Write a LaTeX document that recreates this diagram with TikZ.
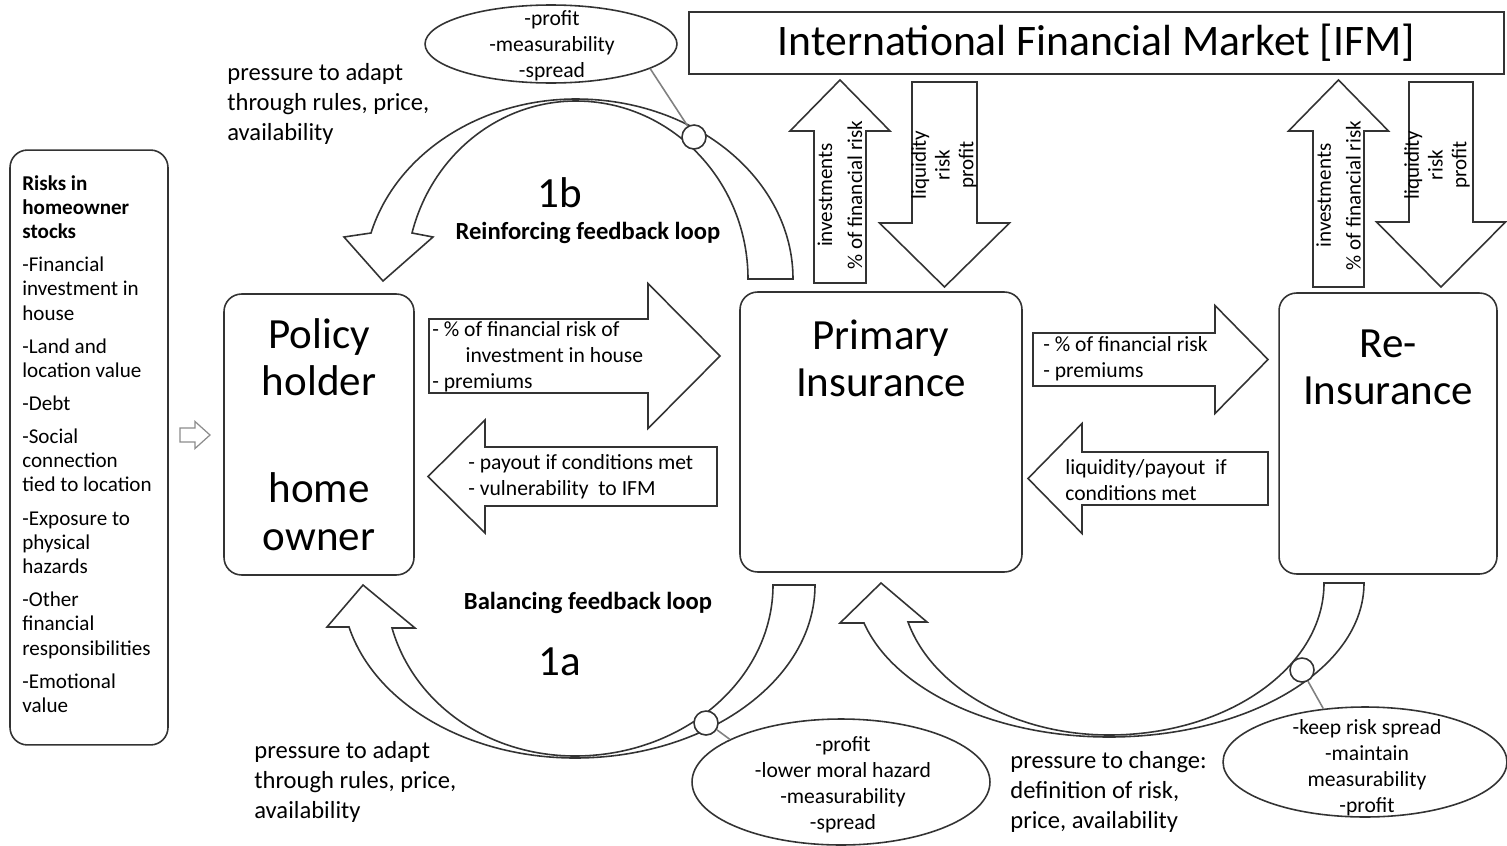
\documentclass[tikz,border=0pt]{standalone}
\usepackage{fontspec}
\setmainfont{Carlito}
\usetikzlibrary{shapes.geometric}
\usetikzlibrary{positioning}
% block arrows: tail, head base, tip, middle, half shaft, half head
\newcommand{\harr}[7][]{\draw[blk,#1] (#2,{#5-#6}) -- (#3,{#5-#6}) -- (#3,{#5-#7}) -- (#4,#5)
  -- (#3,{#5+#7}) -- (#3,{#5+#6}) -- (#2,{#5+#6}) -- cycle;}
\newcommand{\varr}[7][]{\draw[blk,#1] ({#5-#6},#2) -- ({#5-#6},#3) -- ({#5-#7},#3) -- (#5,#4)
  -- ({#5+#7},#3) -- ({#5+#6},#3) -- ({#5+#6},#2) -- cycle;}
\tikzset{
box/.style={draw=black!80,line width=0.9pt,rounded corners=0.35cm,inner sep=0pt},
blk/.style={draw=black!80,line width=0.9pt,fill=white},
band/.style={draw=black!80,line width=0.9pt,fill=white},
oval/.style={draw=black!80,line width=0.9pt,ellipse,inner sep=0pt},
ring/.style={draw=black!80,line width=0.9pt,circle,fill=white,minimum size=0.48cm,inner sep=0pt},
link/.style={draw=black!50,line width=0.9pt},
title/.style={align=center,inner sep=0pt,font=\fontsize{24.5}{27}\selectfont},
small/.style={align=left,inner sep=0pt,font=\fontsize{12.3}{14.8}\selectfont},
note/.style={align=left,inner sep=0pt,font=\fontsize{14}{17}\selectfont},
loop name/.style={inner sep=0pt,font=\bfseries\fontsize{14}{16}\selectfont},
list/.style={align=left,inner sep=0pt,font=\fontsize{12}{13.8}\selectfont}
}

\begin{document}
\begin{tikzpicture}[x=0.02cm,y=-0.02cm]
\path[use as bounding box,fill=white] (0,0) rectangle (1507,845);

% risk stocks
\node[box,minimum width=3.16cm,minimum height=11.9cm] (risks) at (89,447.5) {};
\node[list,anchor=north west] (risktxt) at (22,175) {\textbf{Risks in}\\\textbf{homeowner}\\\textbf{stocks}\\[5pt]
  -Financial\\investment in\\house\\[5pt]
  -Land and\\location value\\[5pt]
  -Debt\\[5pt]
  -Social\\connection\\tied to location\\[5pt]
  -Exposure to\\physical\\hazards\\[5pt]
  -Other\\financial\\responsibilities\\[5pt]
  -Emotional\\value};
\harr[draw=black!45,line width=0.7pt]{180}{195}{210}{435}{7}{13.5}

% actors
\node[box,title,minimum width=3.8cm,minimum height=5.62cm] (ph) at (319,434.5) {Policy\\holder\\[33.7pt]home\\owner};
\node[box,minimum width=5.64cm,minimum height=5.6cm] (pi) at (881,432) {};
\node[title,below=0.56cm of pi.north] (pitxt) {Primary\\Insurance};
\node[box,minimum width=4.36cm,minimum height=5.62cm] (ri) at (1388,433.5) {};
\node[title,below=0.74cm of ri.north] (ritxt) {Re-\\Insurance};
\node[draw=black!80,line width=0.9pt,title,font=\fontsize{24.8}{27}\selectfont,minimum width=16.3cm,minimum height=1.24cm] (ifm) at (1096.5,43) {International Financial Market [IFM]};

% flows between actors
\harr{429}{648}{720}{356}{37}{72.5}
\harr{717}{485}{428}{476.5}{29.5}{56.5}
\harr{1033}{1215}{1268}{359.5}{26.5}{54}
\harr{1268}{1082}{1028}{478.5}{26.5}{55}
\node[small,anchor=west] (a1txt) at (432,356.5) {- \% of financial risk of\\\hspace*{19pt}investment in house\\- premiums};
\node[small,anchor=west] (a2txt) at (468,477) {- payout if conditions met\\- vulnerability\ \ to IFM};
\node[small,anchor=west] (a3txt) at (1043,359) {- \% of financial risk\\- premiums};
\node[small,anchor=west] (a4txt) at (1065,480) {liquidity/payout\ \ if\\conditions met};

% flows with the market
\varr{283}{131}{80}{840}{26}{50}
\varr{82}{223}{287}{944.5}{32.5}{65}
\varr{287}{131}{80}{1338.5}{25.5}{50}
\varr{82}{222}{287}{1441}{32}{64.5}
\node[small,align=center,rotate=90,font=\fontsize{12}{17}\selectfont] (v1txt) at (840,195) {investments\\\% of financial risk};
\node[small,align=center,rotate=90,font=\fontsize{12}{13.5}\selectfont] (v2txt) at (944,165) {liquidity\\risk\\profit};
\node[small,align=center,rotate=90,font=\fontsize{12}{17}\selectfont] (v3txt) at (1338.5,195.5) {investments\\\% of financial risk};
\node[small,align=center,rotate=90,font=\fontsize{12}{13.5}\selectfont] (v4txt) at (1437,165) {liquidity\\risk\\profit};

% feedback loops
\draw[band] (748,279) -- (793,279) .. controls (793,180) and (696,99) .. (576,99)
  .. controls (480,99) and (396,154) .. (371,233) -- (344,237) -- (383,281) -- (433,237) -- (412,233)
  .. controls (432,155) and (499,101) .. (576,101) .. controls (671,101) and (748,181) .. (748,279) -- cycle;
\draw[band] (773,585) -- (815,585) .. controls (815,680) and (707,758) .. (575,758)
  .. controls (468,758) and (375,704) .. (349,627) -- (327,627) -- (363,585) -- (415,628) -- (392,628)
  .. controls (414,704) and (488,756) .. (575,756) .. controls (684,756) and (773,679) .. (773,585) -- cycle;
\draw[band] (1324,583) -- (1364,583) .. controls (1364,668) and (1250,737) .. (1109,737)
  .. controls (994,737) and (894,690) .. (864,623) -- (840,623) -- (881,583) -- (927,622) -- (908,622)
  .. controls (932,688) and (1015,735) .. (1109,735) .. controls (1228,735) and (1324,667) .. (1324,583) -- cycle;
\node[title] (l1b) at (560,193) {1b};
\node[loop name] (n1b) at (588,233) {Reinforcing feedback loop};
\node[loop name] (n1a) at (588,603) {Balancing feedback loop};
\node[title] (l1a) at (560,662) {1a};
\node[note,anchor=west] (p1) at (227,104) {pressure to adapt\\through rules, price,\\availability};
\node[note,anchor=west] (p2) at (254,782) {pressure to adapt\\through rules, price,\\availability};
\node[note,anchor=west] (p3) at (1010,792) {pressure to change:\\definition of risk,\\price, availability};

% goals
\node[oval,minimum width=5.04cm,minimum height=1.56cm] (e1) at (551,44) {};
\node[small,align=center] (e1txt) at (552,46) {-profit\\-measurability\\-spread};
\node[oval,minimum width=5.96cm,minimum height=2.52cm] (e2) at (841,782) {};
\node[small,align=center] (e2txt) at (843,784.5) {-profit\\-lower moral hazard\\-measurability\\-spread};
\node[oval,minimum width=5.68cm,minimum height=2.2cm] (e3) at (1365,762) {};
\node[small,align=center] (e3txt) at (1367,767.5) {-keep risk spread\\-maintain\\measurability\\-profit};
\node[ring] (c1) at (694,137) {};
\node[ring] (c2) at (706,723) {};
\node[ring] (c3) at (1302,670) {};
\draw[link] (c1.120) -- (e1.-14);
\draw[link] (c2.-32) -- (e2.159);
\draw[link] (c3.-62) -- (e3.128);
\end{tikzpicture}
\end{document}
